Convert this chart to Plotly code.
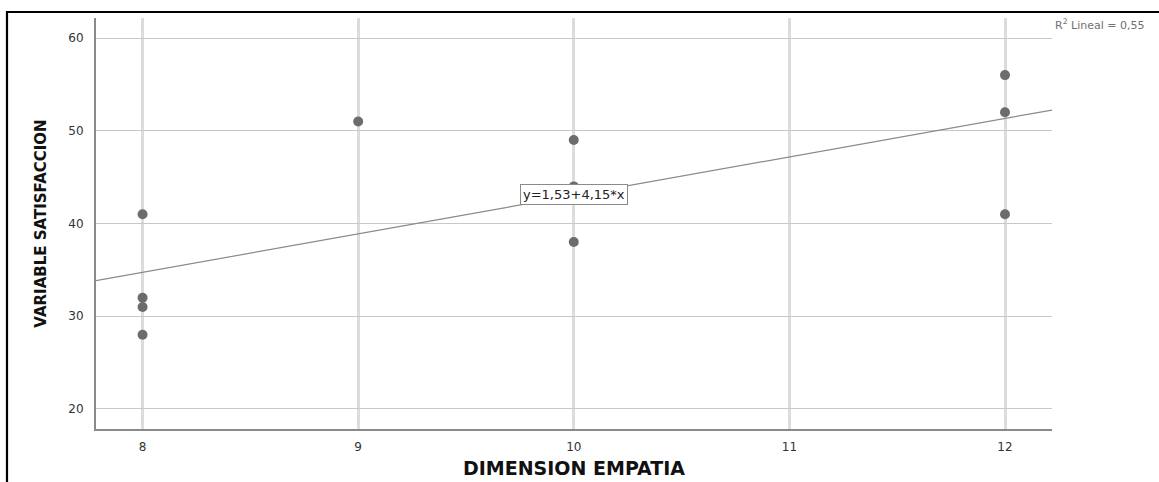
import plotly.graph_objects as go

# Data
dimension_empatia = [8, 8, 8, 8, 9, 10, 10, 10, 12, 12, 12]
variable_satisfaccion = [41, 32, 31, 28, 51, 49, 44, 38, 56, 52, 41]

# Fit line as printed on the chart: y = 1,53 + 4,15*x
fit_intercept = 1.53
fit_slope = 4.15
r2_label = "R<sup>2</sup> Lineal = 0,55"
fit_label = "y=1,53+4,15*x"

x_tick_vals = [8, 9, 10, 11, 12]
y_tick_vals = [20, 30, 40, 50, 60]

x_range = [7.784, 12.218]
y_range = [17.84, 62.16]

fig = go.Figure()

# regression line across the full x range
line_x = list(x_range)
line_y = [fit_intercept + fit_slope * v for v in line_x]
fig.add_trace(go.Scatter(
    x=line_x, y=line_y, mode="lines",
    line=dict(color="#8a8a8a", width=1.2),
    hoverinfo="skip", showlegend=False, cliponaxis=True,
))

fig.add_trace(go.Scatter(
    x=dimension_empatia, y=variable_satisfaccion, mode="markers",
    marker=dict(color="#6c6c6c", size=10, line=dict(width=0)),
    showlegend=False,
))

fig.add_annotation(
    x=10, y=43.1, xref="x", yref="y", text=fit_label, showarrow=False,
    font=dict(family="DejaVu Sans", size=13, color="#222222"),
    bgcolor="white", bordercolor="#8a8a8a", borderwidth=1, borderpad=2,
)

fig.add_annotation(
    x=1.001, y=0.983, xref="paper", yref="paper", text=r2_label,
    showarrow=False, xanchor="left", yanchor="middle",
    font=dict(family="DejaVu Sans", size=11, color="#707070"),
)

# outer frame (left and top black border)
fig.add_shape(
    type="path", xref="paper", yref="paper",
    path="M -0.0931,-0.2 L -0.0931,1.0146 L 1.2,1.0146",
    line=dict(color="black", width=2.2),
)

fig.update_layout(
    width=1159, height=482,
    margin=dict(l=96, r=107, t=18, b=53, autoexpand=False),
    paper_bgcolor="white", plot_bgcolor="white",
    font=dict(family="DejaVu Sans", size=12, color="#333333"),
    xaxis=dict(
        range=x_range, tickvals=x_tick_vals, showgrid=True,
        gridcolor="#dcdcdc", gridwidth=2.6, zeroline=False,
        showline=True, linecolor="#8a8a8a", linewidth=1.5,
        ticks="", ticklabelstandoff=6, automargin=False,
        tickfont=dict(family="DejaVu Sans", size=12, color="#333333"),
        title=dict(text="DIMENSION EMPATIA", standoff=9,
                   font=dict(family="DejaVu Sans", size=19, color="#111111", weight="bold")),
    ),
    yaxis=dict(
        range=y_range, tickvals=y_tick_vals, showgrid=True,
        gridcolor="#c8c8c8", gridwidth=1.2, zeroline=False,
        showline=True, linecolor="#8a8a8a", linewidth=2,
        ticks="", ticklabelstandoff=8, automargin=False,
        tickfont=dict(family="DejaVu Sans", size=12, color="#333333"),
        title=dict(text="VARIABLE SATISFACCION", standoff=18,
                   font=dict(family="DejaVu Sans", size=15, color="#111111", weight="bold")),
    ),
)

fig.write_html("out.html", config={"displayModeBar": False},
               post_script="document.body.style.margin='0';")
